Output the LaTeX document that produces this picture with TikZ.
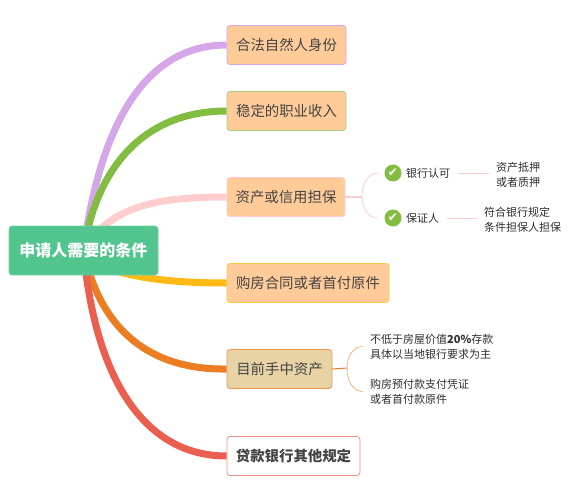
\documentclass[tikz,border=0pt]{standalone}
\usepackage{fontspec}
\setmainfont{Noto Sans CJK SC}
\newfontfamily\marksym{DejaVu Sans}
\usetikzlibrary{backgrounds, arrows.meta}
\definecolor{mmroot}{HTML}{52C48E}
\definecolor{mmpeach}{HTML}{FFCC99}
\definecolor{mmsand}{HTML}{E8D3A5}
\definecolor{mmpurple}{HTML}{D5A6E8}
\definecolor{mmgreen}{HTML}{82BC41}
\definecolor{mmpink}{HTML}{FFCDCD}
\definecolor{mmyellow}{HTML}{FFB914}
\definecolor{mmorange}{HTML}{EB7D23}
\definecolor{mmred}{HTML}{EB5F50}
\definecolor{mmtext}{HTML}{444444}
\definecolor{mmnote}{HTML}{2E2E2E}

\begin{document}
\begin{tikzpicture}[x=1pt, y=-1pt, every node/.style={text=mmtext},
      rootbox/.style={fill=mmroot, draw=mmroot!80!white, line width=.6pt, rounded corners=3pt, minimum width=149pt, minimum height=49pt, inner sep=0pt, font=\fontsize{16}{20}\selectfont\bfseries, text=white},
      topic/.style={fill=mmpeach, line width=.8pt, rounded corners=3pt, minimum height=39pt, inner sep=0pt, font=\fontsize{14.4}{18}\selectfont},
      limb/.style={line width=7pt},
      twig/.style={line width=.8pt},
      okmark/.style={circle, fill=mmgreen, minimum size=17pt, inner sep=0pt, text=white, font=\marksym\fontsize{12}{12}\selectfont},
      note/.style={font=\fontsize{11}{15}\selectfont, inner xsep=7pt, inner ysep=0pt, align=left, text=mmnote},
      subtopic/.style={note, inner xsep=8pt}]

      \useasboundingbox (0,0) rectangle (568,495);

      \node[rootbox] (root) at (83.5,250.5) {申请人需要的条件};

      \node[topic, draw=mmpurple, minimum width=119pt] (legal) at (286.5,45) {合法自然人身份};
      \node[topic, draw=mmgreen!70!white, minimum width=119pt] (income) at (286.5,111) {稳定的职业收入};
      \node[topic, draw=mmpink, minimum width=118pt] (credit) at (286,197) {资产或信用担保};
      \node[topic, draw=mmyellow!80!white, minimum width=162pt] (contract) at (308,283) {购房合同或者首付原件};
      \node[topic, draw=mmorange!80!white, fill=mmsand, minimum width=105pt] (assets) at (279.5,369) {目前手中资产};
      \node[topic, draw=mmred!70!white, fill=white, minimum width=133pt, font=\fontsize{14.4}{18}\selectfont\bfseries] (other) at (293.5,456) {贷款银行其他规定};

      \node[okmark] (okbank) at (393,173) {✔};
      \node[okmark] (okguar) at (393,218) {✔};
      \node[subtopic, anchor=west] (bank) at (398,173) {银行认可};
      \node[subtopic, anchor=west] (guar) at (398,218) {保证人};
      \node[note, anchor=west] (pledge) at (489,174.5) {资产抵押\\或者质押};
      \node[note, anchor=west] (rule) at (477,219.5) {符合银行规定\\条件担保人担保};

      \node[note, anchor=west] (deposit) at (363,346.5) {不低于房屋价值\textbf{20\%}存款\\具体以当地银行要求为主};
      \node[note, anchor=west] (receipt) at (363,391.5) {购房预付款支付凭证\\或者首付款原件};

      \coordinate (credithub) at (362,197);
      \coordinate (bankend) at (378,173);
      \coordinate (guarend) at (378,218);
      \coordinate (assethub) at (347,368);

      \begin{scope}[on background layer]
        \draw[limb, mmpurple] (root.center) .. controls (100,125) and (145,45) .. (legal.west);
        \draw[limb, mmgreen] (root.center) .. controls (98,160) and (150,111) .. (income.west);
        \draw[limb, mmpink] (root.center) .. controls (110,205) and (160,197) .. (credit.west);
        \draw[limb, mmyellow] (root.center) .. controls (100,275) and (160,283) .. (contract.west);
        \draw[limb, mmorange] (root.center) .. controls (100,330) and (150,370) .. (assets.west);
        \draw[limb, mmred] (root.center) .. controls (95,380) and (145,456) .. (other.west);
      \end{scope}

      \draw[line width=1.2pt, mmpink] (credit.east) -- (credithub);
      \draw[twig, mmpink] (credithub) to[out=90, in=180] (bankend);
      \draw[twig, mmpink] (credithub) to[out=-90, in=180] (guarend);
      \draw[twig, mmpink] (bank.east) -- (bank.east -| pledge.west);
      \draw[twig, mmpink] (guar.east) -- (guar.east -| rule.west);

      \draw[line width=1pt, mmorange] (assets.east) -- (assethub);
      \draw[twig, mmorange!60!white] (assethub) to[out=90, in=180] (deposit.west);
      \draw[twig, mmorange!60!white] (assethub) to[out=-90, in=180] (receipt.west);
    \end{tikzpicture}
\end{document}
